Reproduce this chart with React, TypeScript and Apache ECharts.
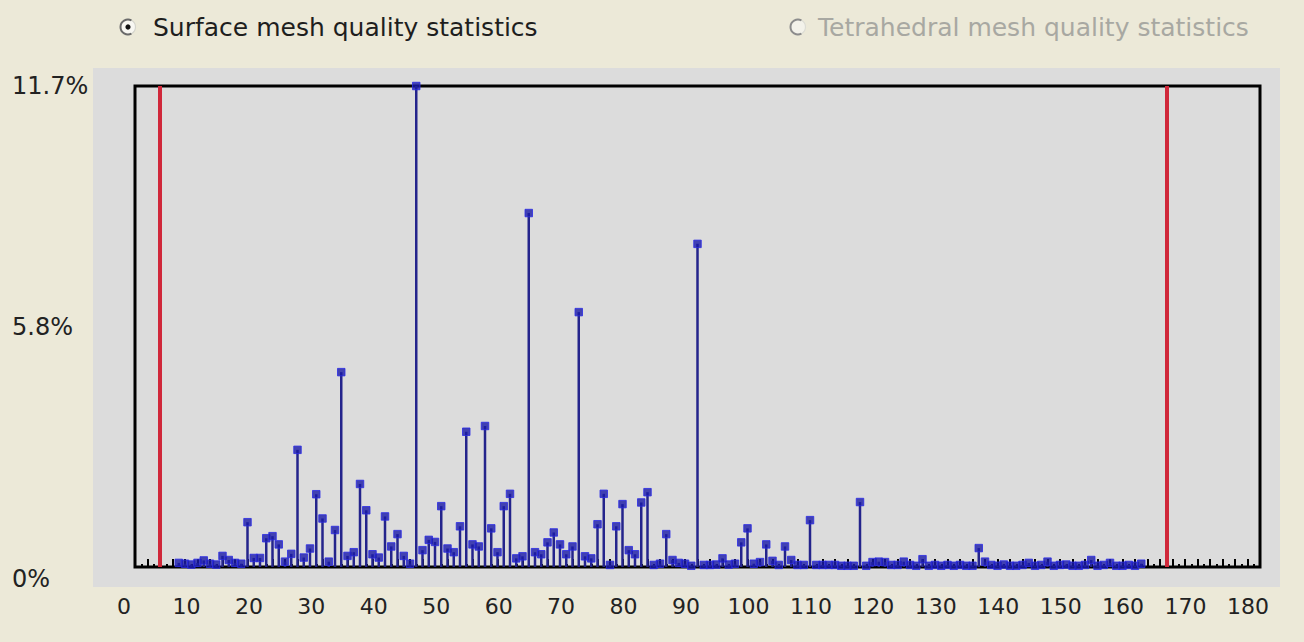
import React, { useEffect, useRef } from "react";
import * as echarts from "echarts";

// Histogram of angles (degrees) vs. share of elements (%)
const binAngles = [
  7, 8, 9, 10, 11, 12, 13, 14, 15, 16, 17, 18, 19, 20, 21, 22, 23, 24, 25, 26,
  27, 28, 29, 30, 31, 32, 33, 34, 35, 36, 37, 38, 39, 40, 41, 42, 43, 44, 45, 46,
  47, 48, 49, 50, 51, 52, 53, 54, 55, 56, 57, 58, 59, 60, 61, 62, 63, 64, 65, 66,
  67, 68, 69, 70, 71, 72, 73, 74, 75, 76, 77, 78, 79, 80, 81, 82, 83, 84, 85, 86,
  87, 88, 89, 90, 91, 92, 93, 94, 95, 96, 97, 98, 99, 100, 101, 102, 103, 104, 105, 106,
  107, 108, 109, 110, 111, 112, 113, 114, 115, 116, 117, 118, 119, 120, 121, 122, 123, 124, 125, 126,
  127, 128, 129, 130, 131, 132, 133, 134, 135, 136, 137, 138, 139, 140, 141, 142, 143, 144, 145, 146,
  147, 148, 149, 150, 151, 152, 153, 154, 155, 156, 157, 158, 159, 160, 161,
];
const binPercents = [
  0.10, 0.08, 0.06, 0.10, 0.16, 0.08, 0.06, 0.27, 0.17, 0.10, 0.08, 1.09, 0.22, 0.22, 0.70, 0.75, 0.55, 0.13, 0.32, 2.85,
  0.23, 0.45, 1.77, 1.18, 0.13, 0.90, 4.74, 0.27, 0.36, 2.02, 1.38, 0.31, 0.23, 1.23, 0.50, 0.80, 0.27, 0.08, 11.7, 0.41,
  0.66, 0.61, 1.48, 0.45, 0.36, 0.99, 3.29, 0.55, 0.50, 3.43, 0.94, 0.36, 1.48, 1.78, 0.21, 0.26, 8.61, 0.36, 0.31, 0.60,
  0.84, 0.55, 0.31, 0.50, 6.20, 0.26, 0.21, 1.04, 1.78, 0.05, 0.99, 1.53, 0.41, 0.31, 1.57, 1.82, 0.05, 0.08, 0.80, 0.17,
  0.10, 0.08, 0.03, 7.86, 0.05, 0.05, 0.06, 0.21, 0.06, 0.08, 0.60, 0.94, 0.08, 0.12, 0.55, 0.15, 0.05, 0.50, 0.17, 0.05,
  0.05, 1.14, 0.05, 0.05, 0.05, 0.05, 0.03, 0.03, 0.03, 1.58, 0.03, 0.12, 0.13, 0.12, 0.05, 0.05, 0.13, 0.05, 0.03, 0.19,
  0.03, 0.05, 0.03, 0.05, 0.03, 0.05, 0.03, 0.03, 0.46, 0.13, 0.05, 0.03, 0.06, 0.03, 0.03, 0.05, 0.10, 0.03, 0.05, 0.13,
  0.03, 0.05, 0.06, 0.03, 0.03, 0.05, 0.17, 0.03, 0.05, 0.10, 0.03, 0.03, 0.05, 0.03, 0.08,
];
const limitAngles = [4, 165];
const yTickLabels = ["0%", "5.8%", "11.7%"];
const xMin = 0;
const xMax = 180;
const yMax = 11.7;
const optionLabels = ["Surface mesh quality statistics", "Tetrahedral mesh quality statistics"];

const FONT = '"DejaVu Sans", Verdana, Tahoma, sans-serif';

export default function App() {
  const ref = useRef<HTMLDivElement>(null);
  useEffect(() => {
    const chart = echarts.init(ref.current!, null, { renderer: "svg" });
    const points = binAngles.map((a, i) => [a, binPercents[i]]);
    chart.setOption({
      animation: false,
      backgroundColor: "#ece9d8",
      graphic: [
        {
          type: "rect",
          z: -10,
          shape: { x: 93, y: 68, width: 1187, height: 519 },
          style: { fill: "#dcdcdc" },
        },
        // radio 1 (selected)
        { type: "circle", shape: { cx: 128, cy: 27, r: 7.5 }, style: { fill: "#f8f7f2", stroke: "#d4d4cc", lineWidth: 1.2 } },
        { type: "arc", shape: { cx: 128, cy: 27, r: 7.5, startAngle: Math.PI * 0.35, endAngle: Math.PI * 1.65, clockwise: true }, style: { stroke: "#6a6a6a", lineWidth: 2, fill: "none" } },
        { type: "circle", shape: { cx: 128, cy: 27, r: 2.6 }, style: { fill: "#111" } },
        {
          type: "text",
          x: 153,
          y: 27,
          style: { text: optionLabels[0], font: `25px ${FONT}`, fill: "#1e1e1e", verticalAlign: "middle", align: "left" },
        },
        // radio 2 (disabled)
        { type: "circle", shape: { cx: 798, cy: 27, r: 7.5 }, style: { fill: "#f3f2ea", stroke: "#dcdcd4", lineWidth: 1.2 } },
        { type: "arc", shape: { cx: 798, cy: 27, r: 7.5, startAngle: Math.PI * 0.35, endAngle: Math.PI * 1.65, clockwise: true }, style: { stroke: "#8c8c8c", lineWidth: 2, fill: "none" } },
        {
          type: "text",
          x: 818,
          y: 27,
          style: { text: optionLabels[1], font: `25px ${FONT}`, fill: "#a8a8a2", verticalAlign: "middle", align: "left" },
        },
      ],
      grid: [
        { left: 135, right: 44, top: 86, bottom: 75, show: true, backgroundColor: "#dcdcdc", borderColor: "#000", borderWidth: 3 },
        { left: 124, right: 56, top: 86, bottom: 75, show: false },
      ],
      xAxis: [
        {
          type: "value",
          gridIndex: 0,
          min: xMin,
          max: xMax,
          interval: 2,
          axisLine: { show: false },
          axisTick: { show: true, inside: true, length: 8, lineStyle: { color: "#000", width: 2 } },
          minorTick: { show: true, splitNumber: 2, length: 3, lineStyle: { color: "#000", width: 2 } },
          axisLabel: { show: false },
          splitLine: { show: false },
        },
        {
          type: "value",
          gridIndex: 1,
          min: xMin,
          max: xMax,
          interval: 10,
          axisLine: { show: false },
          axisTick: { show: false },
          splitLine: { show: false },
          axisLabel: { show: true, margin: 28, fontFamily: FONT, fontSize: 22, color: "#222" },
        },
      ],
      yAxis: [
        {
          type: "value",
          gridIndex: 0,
          min: 0,
          max: yMax,
          interval: yMax / 2,
          axisLine: { show: false },
          axisTick: { show: false },
          splitLine: { show: false },
          axisLabel: {
            show: true,
            align: "left",
            margin: 123,
            fontFamily: FONT,
            fontSize: 24,
            color: "#222",
            formatter: (v: number) => {
              if (v < yMax * 0.25) return "{lo|" + yTickLabels[0] + "}";
              if (v < yMax * 0.75) return yTickLabels[1];
              return yTickLabels[2];
            },
            rich: { lo: { fontFamily: FONT, fontSize: 24, color: "#222", padding: [24, 0, 0, 0] } },
          },
        },
        { type: "value", gridIndex: 1, min: 0, max: 1, show: false },
      ],
      series: [
        {
          type: "bar",
          xAxisIndex: 0,
          yAxisIndex: 0,
          data: points,
          barWidth: 2.5,
          itemStyle: { color: "#24248c" },
          z: 2,
          markLine: {
            silent: true,
            symbol: ["none", "none"],
            label: { show: false },
            lineStyle: { color: "#d0283a", width: 4, type: "solid" },
            data: limitAngles.map((a) => ({ xAxis: a })),
          },
        },
        {
          type: "scatter",
          xAxisIndex: 0,
          yAxisIndex: 0,
          data: points,
          symbol: "rect",
          symbolSize: 7.5,
          itemStyle: { color: "#1a1aa8", borderColor: "#2a2ae6", borderWidth: 1 },
          z: 3,
        },
      ],
    });
    return () => chart.dispose();
  }, []);
  return <div ref={ref} style={{ position: "fixed", left: 0, top: 0, width: 1304, height: 642 }} />;
}
